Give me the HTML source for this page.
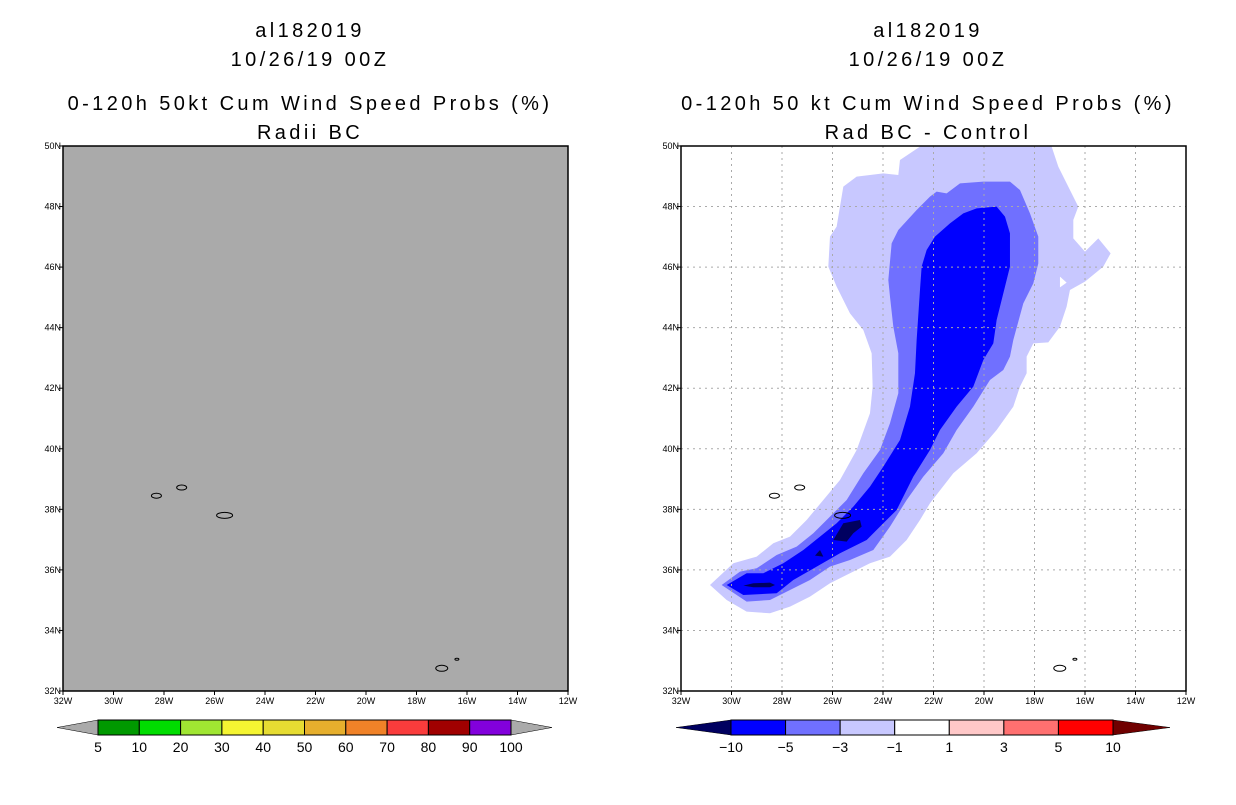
<!DOCTYPE html>
<html><head><meta charset="utf-8"><style>
body{margin:0;background:#fff;font-family:"Liberation Sans",sans-serif}
svg text{font-family:"Liberation Sans",sans-serif}
</style></head><body>
<svg width="1236" height="800" xmlns="http://www.w3.org/2000/svg">
<g id="titles" font-size="20" text-anchor="middle" fill="#000" letter-spacing="3.4">
<text x="310" y="37">al182019</text>
<text x="310" y="66">10/26/19 00Z</text>
<text x="310" y="110">0-120h 50kt Cum Wind Speed Probs (%)</text>
<text x="310" y="139">Radii BC</text>
<text x="928" y="37">al182019</text>
<text x="928" y="66">10/26/19 00Z</text>
<text x="928" y="110">0-120h 50 kt Cum Wind Speed Probs (%)</text>
<text x="928" y="139">Rad BC - Control</text>
</g>
<rect x="63" y="146" width="505" height="545" fill="#aaaaaa"/>
<rect x="681" y="146" width="505" height="545" fill="#fff"/>
<g id="contours" transform="translate(690,140) scale(0.3333)"></g>
<g id="rgrid" stroke="#aaa" stroke-dasharray="2,4" stroke-width="1"></g>
<g id="islands" fill="none" stroke="#000" stroke-width="1"></g>
<rect x="63" y="146" width="505" height="545" fill="none" stroke="#000" stroke-width="1.5"/>
<rect x="681" y="146" width="505" height="545" fill="none" stroke="#000" stroke-width="1.5"/>
<g id="axes" font-size="9" fill="#000"></g>
<g id="cbars"></g>
</svg>
<script>
const NS="http://www.w3.org/2000/svg";
const lonTicks=["32W","30W","28W","26W","24W","22W","20W","18W","16W","14W","12W"];
const latTicks=["32N","34N","36N","38N","40N","42N","44N","46N","48N","50N"];
const leftLabels=["5","10","20","30","40","50","60","70","80","90","100"];
const leftColors=["#009900","#00dd00","#a0e632","#f5f532","#e6dc32","#e6af2d","#f08228","#fa3c3c","#a00000","#8200dc"];
const rightLabels=["-10","-5","-3","-1","1","3","5","10"];
const rightColors=["#0000ff","#7070ff","#c8c8ff","#ffffff","#ffc8c8","#ff7070","#ff0000"];
const outerPoly=[[60,1335],[130,1270],[200,1250],[250,1210],[300,1190],[350,1140],[400,1080],[450,1020],[500,930],[540,820],[548,740],[545,640],[520,570],[480,520],[440,440],[415,380],[420,290],[440,260],[460,140],[500,110],[580,100],[625,105],[630,60],[690,20],[1085,20],[1105,80],[1140,150],[1165,200],[1150,240],[1150,295],[1185,335],[1225,295],[1262,340],[1240,380],[1185,425],[1140,450],[1130,500],[1110,560],[1075,607],[1030,610],[1010,650],[1010,700],[990,740],[970,800],[920,870],[860,940],[790,1000],[720,1090],[690,1140],[650,1200],[600,1250],[540,1270],[480,1300],[420,1330],[360,1370],[300,1400],[240,1420],[170,1415],[110,1380]];
const holePoly=[[1110,410],[1130,428],[1110,442]];
const midPoly=[[95,1335],[150,1295],[200,1285],[260,1245],[320,1220],[370,1180],[420,1130],[470,1080],[520,1000],[570,930],[600,850],[625,760],[625,640],[610,560],[600,470],[595,420],[605,310],[625,270],[680,210],[720,170],[740,155],[770,160],[810,130],[880,125],[960,125],[990,150],[1020,220],[1045,290],[1045,370],[1030,430],[1000,490],[970,600],[960,650],[940,690],[900,720],[850,800],[800,870],[760,940],[700,1010],[650,1080],[600,1160],[550,1230],[480,1260],[420,1280],[360,1320],[300,1350],[240,1380],[170,1385]];
const innerPoly=[[110,1335],[170,1300],[220,1300],[280,1270],[340,1230],[390,1190],[440,1150],[490,1100],[540,1040],[580,980],[630,900],[660,800],[675,700],[680,600],[690,450],[695,380],[710,330],[735,290],[780,250],[820,220],[860,205],[920,200],[945,230],[960,280],[960,380],[940,460],[920,540],[910,610],[880,660],[850,740],[800,800],[750,870],[720,930],[670,1010],[620,1110],[580,1150],[530,1200],[450,1240],[380,1280],[310,1320],[260,1360],[160,1365]];
const darkA=[[430,1200],[460,1150],[510,1140],[515,1160],[490,1180],[470,1205]];
const darkB=[[160,1337],[190,1330],[240,1328],[255,1335],[240,1342],[190,1342]];
const darkC=[[375,1247],[390,1230],[400,1250]];
const islandsLL=[[-28.3,38.45,5,2.5],[-27.3,38.72,5,2.5],[-25.6,37.8,8,3],[-17.0,32.75,6,3],[-16.4,33.05,2,1]];
function lonX(x0,l){return x0+(l+32)*25.25;}
function latY(l){return 691-(l-32)*30.28;}
function el(tag,attrs,parent){const e=document.createElementNS(NS,tag);for(const k in attrs)e.setAttribute(k,attrs[k]);parent.appendChild(e);return e;}
const rg=document.getElementById('rgrid');
for(let i=1;i<lonTicks.length-1;i++){const x=lonX(681,-32+2*i);const l=el('line',{x1:x,y1:146,x2:x,y2:691},rg);

}
for(let i=1;i<latTicks.length-1;i++){const y=latY(32+2*i);const l=el('line',{x1:681,y1:y,x2:1186,y2:y},rg);

}
const cg=document.getElementById('contours');
function poly(pts,fill,name){const p=el('polygon',{points:pts.map(p=>p.join(',')).join(' '),fill:fill},cg);

}
poly(outerPoly,'#c8c8ff','contour-minus1');
poly(holePoly,'#ffffff','contour-hole');
poly(midPoly,'#7070ff','contour-minus3');
poly(innerPoly,'#0000ff','contour-minus5');
poly(darkA,'#000060','contour-minus10-a');
poly(darkB,'#000060','contour-minus10-b');
poly(darkC,'#000060','contour-minus10-c');
const ig=document.getElementById('islands');
[63,681].forEach((x0,pi)=>{islandsLL.forEach((d,j)=>{const e=el('ellipse',{cx:lonX(x0,d[0]),cy:latY(d[1]),rx:d[2],ry:d[3]},ig);

});});
const ag=document.getElementById('axes');
[63,681].forEach((x0,pi)=>{
lonTicks.forEach((t,i)=>{const x=lonX(x0,-32+2*i);el('line',{x1:x,y1:691,x2:x,y2:695,stroke:'#000'},ag);
const tx=el('text',{x:x,y:704,'text-anchor':'middle'},ag);tx.textContent=t;

});
latTicks.forEach((t,i)=>{const y=latY(32+2*i);el('line',{x1:x0-4,y1:y,x2:x0,y2:y,stroke:'#000'},ag);
const tx=el('text',{x:x0-2,y:y+3,'text-anchor':'end'},ag);tx.textContent=t;

});});
const cb=document.getElementById('cbars');
function colorbar(x0,x1,tipL,tipR,colors,labels,lcol,rcol,name){
const w=(x1-x0)/colors.length,y0=720,y1=735,ym=727.5;
const a=el('polygon',{points:`${tipL},${ym} ${x0},${y0} ${x0},${y1}`,fill:lcol,stroke:'#000','stroke-width':0.5},cb);


const b=el('polygon',{points:`${tipR},${ym} ${x1},${y0} ${x1},${y1}`,fill:rcol,stroke:'#000','stroke-width':0.5},cb);


colors.forEach((c,i)=>{const r=el('rect',{x:x0+i*w,y:y0,width:w,height:y1-y0,fill:c,stroke:'#000','stroke-width':1},cb);

});
labels.forEach((t,i)=>{const tx=el('text',{x:x0+i*w,y:752,'text-anchor':'middle','font-size':14},cb);tx.textContent=t.replace('-','\u2212');

});}
colorbar(98,511,57,552,leftColors,leftLabels,'#aaaaaa','#aaaaaa','left-colorbar');
colorbar(731,1113,676,1170,rightColors,rightLabels,'#000060','#700000','right-colorbar');
</script>
</body></html>
